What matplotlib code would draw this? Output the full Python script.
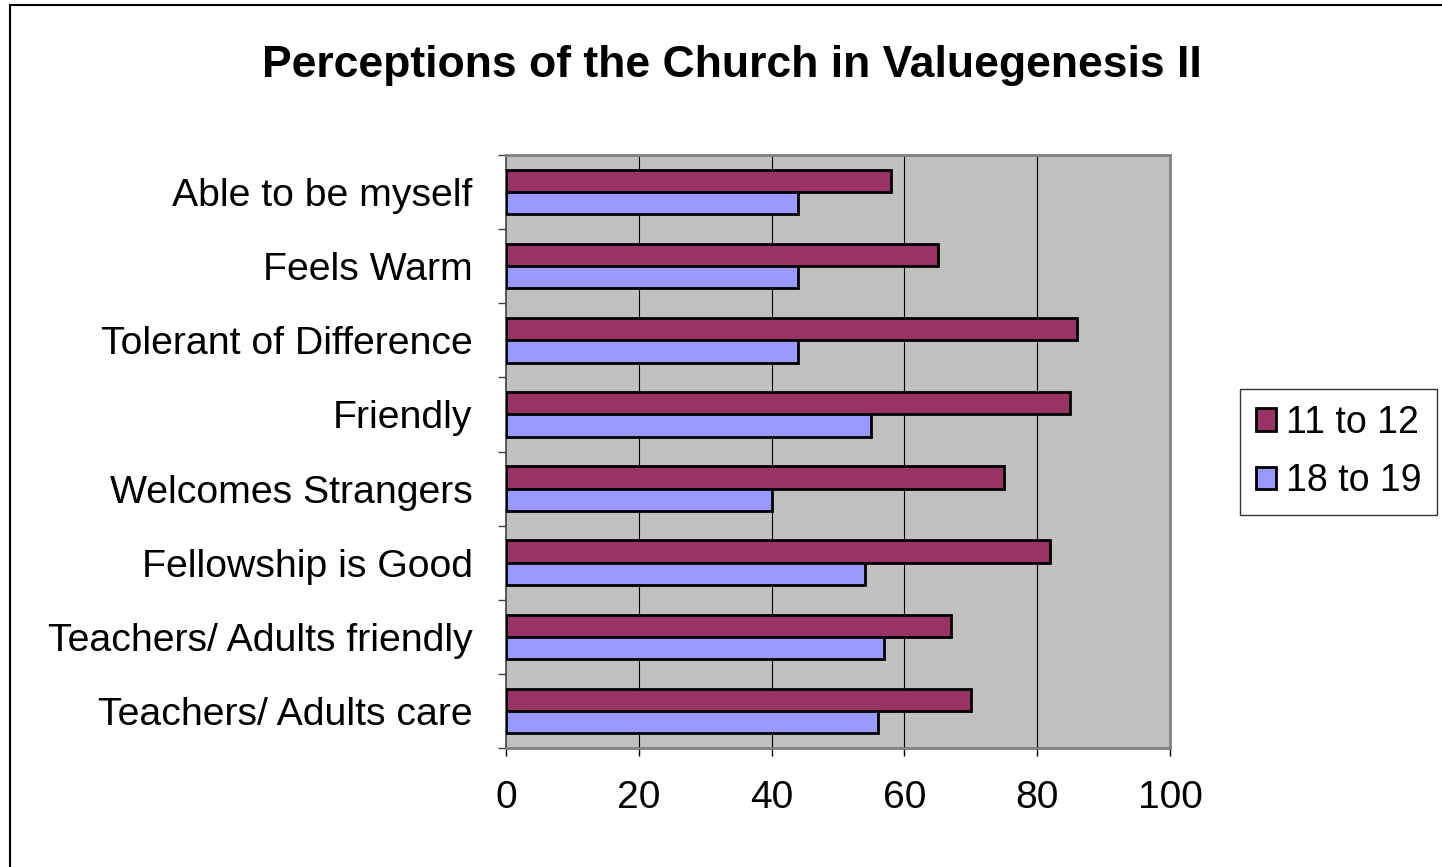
import numpy as np
import matplotlib.pyplot as plt
from matplotlib.patches import Rectangle

plt.rcParams['font.family'] = ['Liberation Sans', 'DejaVu Sans']

categories = ["Able to be myself", "Feels Warm", "Tolerant of Difference", "Friendly",
              "Welcomes Strangers", "Fellowship is Good", "Teachers/ Adults friendly",
              "Teachers/ Adults care"]
age_11_12 = [58, 65, 86, 85, 75, 82, 67, 70]
age_18_19 = [44, 44, 44, 55, 40, 54, 57, 56]
series_names = ["11 to 12", "18 to 19"]
xticks = [0, 20, 40, 60, 80, 100]


def main():
	fig = plt.figure(figsize=(14.42, 8.67), dpi=100)
	ax = fig.add_axes([506 / 1442, 1 - 748 / 867, 664 / 1442, 593 / 867])
	ax.set_facecolor("#C0C0C0")

	n = len(categories)
	y = np.arange(n)
	h = 0.3
	b1 = ax.barh(y - h / 2, age_11_12, height=h, color="#993366", edgecolor="black",
		linewidth=2.0, label=series_names[0], zorder=3)
	b2 = ax.barh(y + h / 2, age_18_19, height=h, color="#9999FF", edgecolor="black",
		linewidth=2.0, label=series_names[1], zorder=3)

	ax.set_xlim(0, 100)
	ax.set_ylim(n - 0.5, -0.5)
	ax.set_xticks(xticks)
	ax.set_xticklabels([str(t) for t in xticks], fontsize=28)
	ax.set_yticks(y)
	ax.set_yticklabels(categories, fontsize=28.3)
	ax.set_yticks(np.arange(n + 1) - 0.5, minor=True)
	ax.tick_params(axis="y", which="major", length=0, pad=24)
	ax.tick_params(axis="y", which="minor", length=6, width=1, color="#404040", direction="out")
	ax.tick_params(axis="x", length=6, width=1, color="black", direction="out", pad=17)

	for t in xticks[1:-1]:
		ax.axvline(t, color="black", linewidth=0.8, zorder=1)

	ax.spines["left"].set_color("#404040")
	ax.spines["left"].set_linewidth(1.2)
	for s in ["top", "right", "bottom"]:
		ax.spines[s].set_color("#808080")
		ax.spines[s].set_linewidth(2.0)

	fig.text(732 / 1442, 1 - 77 / 867, "Perceptions of the Church in Valuegenesis II",
		fontsize=32, fontweight="bold", ha="center", va="baseline")

	leg = fig.legend(handles=[b1, b2], loc="upper left",
		bbox_to_anchor=(1240 / 1442, 1 - 389 / 867), fontsize=27, frameon=True,
		fancybox=False, edgecolor="black", handlelength=0.55, handleheight=0.55,
		handletextpad=0.25, borderpad=0.42, labelspacing=0.6, borderaxespad=0)
	leg.get_frame().set_linewidth(1.0)
	leg._legend_box.align = "left"

	# outer chart border (only left and top show)
	fig.patches.append(Rectangle((10 / 1442, -0.05), 1.1, 1 - 5 / 867 + 0.05,
		transform=fig.transFigure, fill=False, edgecolor="black", linewidth=1.5))

	fig.savefig("out.png", dpi=100)


if __name__ == "__main__":
	main()
